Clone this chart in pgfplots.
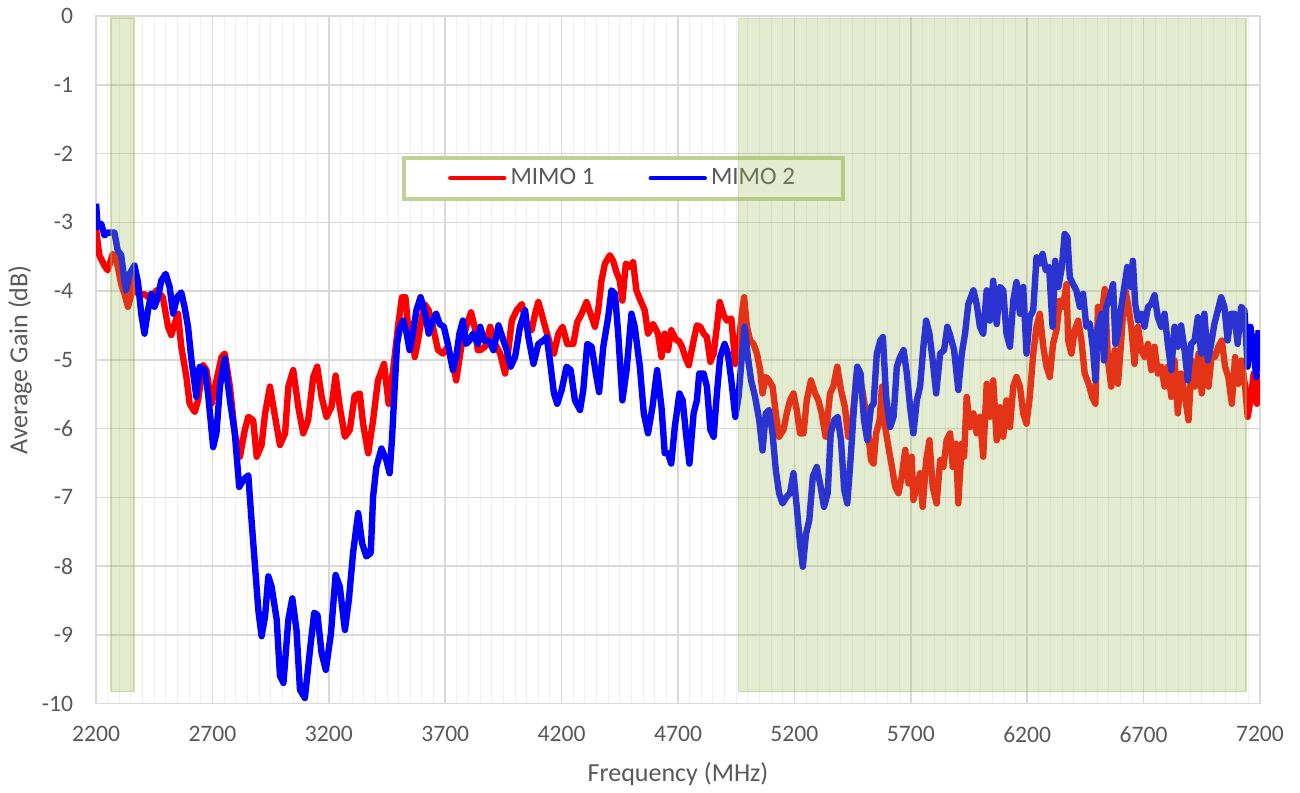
\documentclass[border=0pt]{standalone}
\usepackage{pgfplots}
\pgfplotsset{compat=1.18}
\usepackage{fontspec}
\setmainfont{Carlito}
\definecolor{txtgray}{HTML}{595959}
\definecolor{bandgreen}{HTML}{9BBB59}

\pgfplotstableread{
f g
2200 -3.10
2214 -3.48
2236 -3.63
2250 -3.70
2272 -3.46
2286 -3.53
2308 -3.90
2322 -4.04
2337 -4.23
2351 -4.06
2365 -3.73
2380 -4.04
2410 -4.05
2435 -4.12
2459 -3.99
2487 -4.09
2509 -4.52
2523 -4.64
2538 -4.47
2552 -4.33
2566 -4.81
2588 -5.25
2602 -5.64
2624 -5.76
2638 -5.59
2660 -5.08
2674 -5.15
2696 -5.64
2717 -5.30
2739 -4.96
2753 -4.91
2775 -5.39
2796 -6.07
2818 -6.41
2839 -6.02
2854 -5.83
2875 -5.88
2890 -6.41
2911 -6.24
2926 -5.78
2947 -5.39
2969 -5.83
2990 -6.24
3012 -6.07
3026 -5.39
3047 -5.15
3069 -5.69
3090 -6.07
3111 -5.88
3133 -5.25
3150 -5.10
3169 -5.54
3190 -5.83
3211 -5.69
3229 -5.23
3247 -5.69
3269 -6.12
3290 -6.02
3311 -5.52
3333 -5.49
3347 -5.93
3369 -6.36
3390 -5.88
3411 -5.30
3437 -5.06
3457 -5.64
3476 -5.15
3497 -4.52
3514 -4.09
3529 -4.09
3543 -4.62
3554 -4.48
3569 -4.96
3583 -4.72
3597 -4.43
3611 -4.19
3629 -4.28
3647 -4.52
3669 -4.86
3690 -4.91
3711 -4.81
3733 -5.06
3747 -5.30
3769 -4.81
3790 -4.52
3811 -4.31
3826 -4.52
3840 -4.86
3850 -4.86
3871 -4.81
3893 -4.52
3914 -4.77
3936 -4.91
3957 -5.20
3971 -4.86
3986 -4.43
4007 -4.28
4029 -4.19
4050 -4.52
4071 -4.57
4086 -4.33
4100 -4.16
4114 -4.33
4129 -4.52
4150 -4.77
4167 -4.91
4186 -4.62
4204 -4.52
4224 -4.77
4250 -4.77
4267 -4.45
4286 -4.33
4307 -4.16
4324 -4.33
4343 -4.52
4357 -4.28
4371 -3.85
4386 -3.60
4407 -3.48
4421 -3.56
4436 -3.73
4450 -3.85
4461 -4.14
4476 -3.60
4493 -3.65
4507 -3.58
4521 -3.99
4539 -4.14
4557 -4.28
4571 -4.62
4593 -4.48
4614 -4.62
4629 -4.96
4643 -4.62
4657 -4.86
4671 -4.57
4693 -4.72
4703 -4.72
4717 -4.81
4731 -4.96
4746 -5.08
4767 -4.72
4781 -4.50
4796 -4.52
4810 -4.62
4824 -4.67
4839 -5.03
4853 -4.91
4867 -4.52
4879 -4.16
4896 -4.35
4910 -4.43
4929 -4.40
4946 -5.06
4960 -4.81
4974 -4.33
4984 -4.09
4996 -4.52
5010 -4.72
5024 -4.77
5039 -4.91
5053 -5.15
5063 -5.49
5077 -5.25
5091 -5.30
5106 -5.39
5120 -5.78
5134 -6.12
5153 -6.02
5167 -5.78
5181 -5.59
5196 -5.49
5210 -5.73
5224 -6.07
5239 -6.07
5253 -5.59
5271 -5.30
5289 -5.49
5303 -5.59
5317 -5.78
5334 -6.12
5353 -5.49
5367 -5.39
5384 -5.10
5400 -5.44
5417 -5.69
5431 -6.12
5449 -5.88
5467 -5.20
5489 -5.39
5510 -5.83
5529 -6.46
5540 -6.51
5551 -6.07
5566 -5.88
5576 -5.39
5590 -5.98
5604 -6.27
5619 -6.56
5633 -6.85
5647 -6.94
5661 -6.70
5676 -6.31
5690 -6.80
5704 -6.41
5711 -7.04
5726 -6.85
5740 -6.65
5751 -7.14
5766 -6.46
5780 -6.17
5794 -6.85
5811 -7.09
5826 -6.46
5840 -6.56
5854 -6.17
5869 -6.07
5880 -6.56
5894 -6.22
5904 -7.09
5919 -6.22
5929 -6.41
5940 -5.54
5954 -5.98
5969 -5.78
5983 -6.07
5997 -5.83
6011 -6.41
6026 -5.35
6040 -5.83
6054 -5.30
6069 -6.17
6083 -5.69
6097 -6.12
6111 -5.59
6126 -5.98
6140 -5.39
6154 -5.25
6169 -5.39
6183 -5.78
6197 -5.93
6211 -5.54
6226 -4.91
6240 -4.52
6254 -4.33
6269 -4.81
6283 -5.10
6297 -5.25
6311 -4.77
6326 -4.57
6340 -4.14
6354 -4.23
6369 -3.90
6376 -4.72
6390 -4.91
6404 -4.57
6419 -4.43
6433 -4.72
6447 -5.20
6464 -5.35
6479 -5.54
6493 -5.64
6504 -4.23
6519 -4.38
6533 -3.97
6547 -5.01
6561 -5.39
6576 -4.86
6590 -5.35
6604 -4.72
6619 -3.94
6633 -4.19
6647 -4.52
6661 -5.06
6676 -4.52
6690 -4.86
6704 -4.96
6719 -4.77
6733 -5.15
6747 -4.81
6761 -5.20
6776 -5.10
6790 -5.39
6804 -5.10
6819 -5.54
6833 -5.01
6847 -5.78
6861 -5.20
6876 -5.49
6893 -5.88
6907 -5.01
6921 -5.39
6936 -4.91
6950 -5.49
6964 -4.96
6979 -5.39
6993 -4.91
7007 -4.96
7021 -4.81
7036 -4.72
7050 -5.10
7064 -5.25
7079 -5.64
7093 -4.96
7107 -5.35
7121 -5.01
7136 -5.39
7147 -5.83
7159 -5.59
7173 -5.20
7187 -5.64
7197 -5.20
}\mimoone

\pgfplotstableread{
f g
2200 -2.73
2207 -3.07
2222 -3.02
2236 -3.19
2250 -3.15
2265 -3.15
2279 -3.15
2293 -3.41
2308 -3.48
2322 -3.85
2329 -3.99
2344 -3.75
2365 -3.63
2380 -3.87
2394 -4.33
2408 -4.62
2423 -4.28
2437 -4.04
2451 -4.23
2466 -4.09
2480 -3.85
2499 -3.75
2516 -3.94
2531 -4.33
2548 -4.09
2566 -4.02
2580 -4.23
2595 -4.52
2610 -5.01
2631 -5.54
2645 -5.10
2667 -5.15
2681 -5.49
2703 -6.27
2717 -6.07
2732 -5.39
2753 -4.98
2775 -5.59
2796 -6.07
2815 -6.85
2832 -6.75
2854 -6.68
2868 -7.34
2883 -8.01
2897 -8.64
2911 -9.02
2926 -8.73
2940 -8.15
2954 -8.30
2976 -8.78
2990 -9.60
3005 -9.70
3026 -8.78
3043 -8.47
3061 -8.93
3076 -9.80
3097 -9.92
3119 -9.22
3137 -8.68
3151 -8.71
3169 -9.27
3187 -9.51
3209 -8.98
3229 -8.13
3247 -8.30
3269 -8.93
3286 -8.49
3304 -7.81
3326 -7.23
3343 -7.67
3361 -7.86
3380 -7.81
3390 -6.99
3404 -6.56
3426 -6.29
3447 -6.46
3461 -6.65
3471 -6.17
3483 -5.39
3493 -4.77
3504 -4.55
3519 -4.43
3533 -4.60
3547 -4.86
3561 -4.62
3576 -4.28
3594 -4.09
3611 -4.28
3629 -4.62
3647 -4.43
3661 -4.33
3676 -4.48
3694 -4.52
3711 -4.77
3733 -5.15
3747 -4.96
3761 -4.62
3776 -4.43
3790 -4.77
3804 -4.72
3819 -4.62
3840 -4.77
3850 -4.52
3867 -4.72
3886 -4.72
3907 -4.86
3929 -4.50
3950 -4.72
3964 -4.86
3981 -5.10
4000 -4.96
4021 -4.52
4043 -4.28
4057 -4.67
4079 -5.06
4100 -4.77
4121 -4.72
4136 -4.67
4153 -5.10
4167 -5.49
4181 -5.64
4200 -5.44
4221 -5.10
4239 -5.15
4257 -5.59
4279 -5.73
4293 -5.44
4310 -4.77
4329 -4.81
4347 -5.20
4361 -5.47
4379 -4.81
4400 -4.38
4414 -3.99
4429 -4.04
4443 -4.62
4461 -5.59
4479 -5.15
4500 -4.33
4514 -4.52
4536 -5.10
4553 -5.78
4571 -6.07
4590 -5.69
4610 -5.15
4629 -5.69
4643 -6.36
4657 -6.36
4671 -6.51
4686 -5.98
4706 -5.49
4720 -5.59
4734 -6.07
4749 -6.51
4767 -5.78
4781 -5.59
4791 -5.20
4810 -5.20
4824 -5.39
4839 -6.02
4853 -6.12
4867 -5.49
4881 -4.96
4900 -4.77
4914 -4.91
4929 -5.30
4946 -5.83
4960 -5.54
4974 -4.96
4986 -4.52
5000 -4.96
5014 -5.30
5031 -5.54
5049 -5.88
5063 -6.32
5077 -5.78
5091 -5.73
5106 -6.07
5120 -6.60
5134 -6.94
5149 -7.09
5167 -6.99
5181 -6.94
5196 -6.65
5210 -7.14
5224 -7.67
5236 -8.01
5250 -7.53
5264 -7.33
5279 -6.70
5296 -6.56
5313 -6.85
5327 -7.14
5343 -6.94
5356 -6.07
5371 -5.88
5386 -5.83
5400 -6.17
5414 -6.89
5427 -7.09
5441 -6.46
5456 -5.69
5470 -5.10
5484 -5.20
5499 -5.88
5513 -6.17
5529 -5.69
5540 -5.64
5554 -4.91
5569 -4.72
5580 -4.67
5594 -5.54
5611 -5.98
5626 -5.83
5640 -5.10
5654 -4.96
5669 -4.86
5683 -5.20
5697 -5.69
5711 -6.07
5726 -5.59
5740 -5.39
5754 -4.81
5766 -4.43
5780 -4.62
5794 -5.01
5809 -5.49
5826 -4.91
5843 -4.86
5857 -4.52
5871 -4.67
5886 -4.86
5904 -5.44
5919 -4.91
5933 -4.62
5947 -4.19
5969 -3.99
5983 -4.19
5997 -4.52
6011 -4.62
6026 -3.99
6040 -4.43
6054 -3.85
6069 -4.48
6083 -3.94
6097 -3.99
6111 -4.62
6126 -4.81
6140 -4.14
6154 -3.87
6169 -4.33
6183 -3.94
6197 -4.91
6211 -4.38
6226 -4.28
6240 -3.51
6254 -3.60
6266 -3.46
6280 -3.70
6294 -3.65
6309 -4.52
6320 -3.56
6334 -3.94
6349 -3.65
6361 -3.17
6373 -3.22
6383 -3.80
6397 -3.90
6411 -3.99
6426 -4.23
6440 -4.04
6454 -4.52
6469 -4.47
6483 -4.86
6493 -5.30
6504 -4.52
6519 -4.33
6530 -5.01
6540 -4.23
6554 -4.09
6569 -3.90
6579 -4.77
6590 -4.62
6604 -4.23
6619 -3.90
6630 -3.65
6644 -3.94
6654 -3.56
6664 -4.19
6676 -4.43
6690 -4.33
6704 -4.52
6719 -4.23
6733 -4.19
6747 -4.06
6761 -4.38
6776 -4.52
6790 -4.33
6804 -4.77
6819 -5.15
6833 -4.52
6847 -4.81
6861 -4.50
6876 -4.86
6890 -5.30
6904 -4.77
6919 -4.72
6933 -4.38
6947 -4.91
6961 -4.33
6976 -5.01
6990 -4.77
7004 -4.48
7019 -4.28
7033 -4.09
7047 -4.23
7061 -4.72
7076 -4.33
7090 -4.33
7104 -4.77
7119 -4.23
7133 -4.28
7147 -5.10
7159 -4.52
7173 -4.86
7184 -5.25
7194 -4.57
}\mimotwo

\begin{document}
\begin{tikzpicture}
\useasboundingbox (-48pt,-44.5pt) rectangle (601.5pt,351.5pt);
\begin{axis}[
    at={(0,0)}, anchor=south west,
    scale only axis, width=581.5pt, height=343.5pt,
    xmin=2200, xmax=7200, ymin=-10, ymax=0,
    xtick={2200,2700,...,7200}, ytick={-10,-9,...,0},
    minor x tick num=9,
    xmajorgrids, xminorgrids, ymajorgrids,
    major grid style={gray!30, line width=0.75pt},
    minor grid style={gray!12, line width=0.5pt},
    axis line style={gray!30, line width=0.75pt},
    major tick length=0pt, minor tick length=0pt,
    /pgf/number format/1000 sep={},
    /pgf/number format/assume math mode=true,
    ticklabel style={font=\fontsize{11.8}{14}\selectfont, text=txtgray},
    yticklabel style={xshift=-8pt},
    xticklabel style={yshift=-8pt},
    xlabel={Frequency (MHz)},
    ylabel={Average Gain (dB)},
    label style={font=\fontsize{13}{15}\selectfont, text=txtgray},
    xlabel style={at={(axis description cs:0.5,-0.102)}, anchor=center},
    ylabel style={at={(axis description cs:-0.0653,0.5)}, anchor=center},
    legend columns=2,
    legend style={at={(axis cs:4466,-2.36)}, anchor=center,
        draw=bandgreen!65, line width=2pt, fill=white,
        inner xsep=22pt, inner ysep=3.5pt,
        font=\fontsize{12.5}{14}\selectfont, text=txtgray,
        /tikz/every even column/.append style={column sep=25pt}},
    legend image code/.code={\draw[#1, line width=2.2pt, line cap=round] (0pt,0pt) -- (27pt,0pt);},
    every axis plot/.append style={line width=3.2pt, line join=round},
]
\addplot[red, no marks] table[x=f, y=g] {\mimoone};
\addplot[blue, no marks] table[x=f, y=g] {\mimotwo};
\legend{MIMO 1, MIMO 2}
\coordinate (ra) at (axis cs:2264,-0.03);
\coordinate (rb) at (axis cs:2363,-9.83);
\coordinate (sa) at (axis cs:4960,-0.04);
\coordinate (sb) at (axis cs:7140,-9.83);
\end{axis}
\filldraw[fill=bandgreen, fill opacity=0.28, draw=bandgreen, draw opacity=0.45, line width=0.6pt] (ra) rectangle (rb);
\filldraw[fill=bandgreen, fill opacity=0.28, draw=bandgreen, draw opacity=0.45, line width=0.6pt] (sa) rectangle (sb);
\end{tikzpicture}
\end{document}
